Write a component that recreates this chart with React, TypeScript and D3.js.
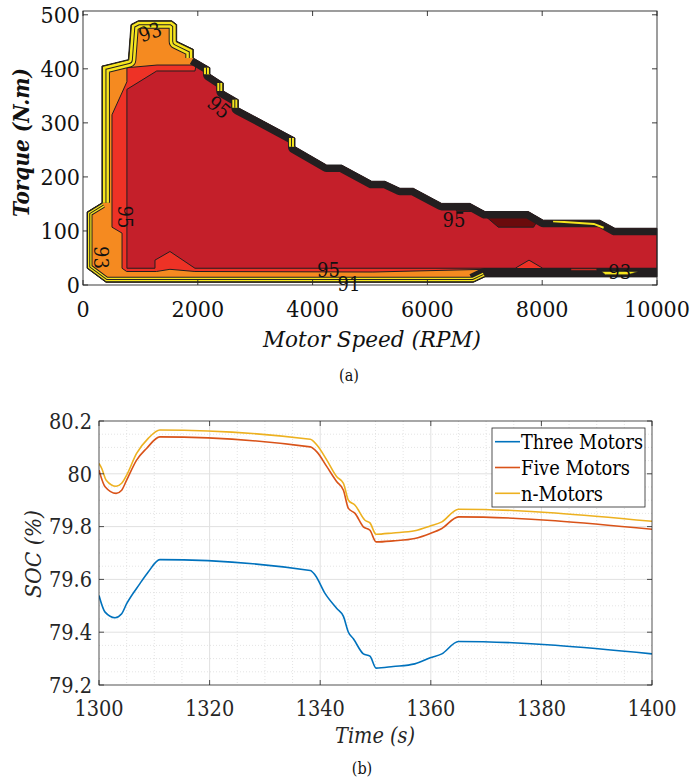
import React from 'react';
import * as d3 from 'd3';

type P = [number, number];

const SERIF = 'DejaVu Serif Condensed, DejaVu Serif';

// ---------------- (a) efficiency map ----------------
const speedTicks = [0, 2000, 4000, 6000, 8000, 10000];
const torqueTicks = [0, 100, 200, 300, 400, 500];

// outer boundary of the operating region (rpm, N.m), split by edge style
const edgeBottomLeft: P[] = [
  [7000, 15], [6800, 5], [400, 5], [70, 31], [70, 135], [330, 152],
];
const edgeUpperLeft: P[] = [
  [330, 152], [330, 405], [790, 417], [836, 482], [964, 489], [1545, 489],
  [1632, 482], [1632, 451], [1922, 436], [1922, 420],
];
const edgeTop: P[] = [
  [1922, 420], [2212, 402], [2212, 390], [2444, 374], [2444, 359], [2706, 343],
  [2706, 328], [3693, 272], [3693, 256], [4245, 222], [4506, 222], [5030, 192],
  [5260, 192], [5522, 179], [5754, 179], [6248, 151], [6742, 151], [7003, 136],
  [7757, 136], [8019, 120], [9006, 120], [9267, 105], [10000, 105],
];
const stepEdges: P[][] = [
  [[2212, 402], [2212, 390]],
  [[2444, 374], [2444, 359]],
  [[2706, 343], [2706, 328]],
  [[3693, 272], [3693, 256]],
];
const edgeBottomRight: P[] = [[10000, 15], [7000, 15], [6800, 5]];

// efficiency zones (rpm, N.m)
const redOrangeZone: P[] = [
  [765, 402], [1290, 407], [1950, 407], [2300, 600], [10500, 600], [10500, 29],
  [7000, 29], [5050, 24], [1950, 25], [1515, 29], [1280, 25], [760, 25], [680, 31],
  [680, 96], [505, 107], [505, 315], [765, 376],
];
const crimsonZone: P[] = [
  [765, 362], [1284, 396], [1951, 396], [2300, 600], [10500, 600], [10500, 31],
  [8010, 31], [7770, 46], [7530, 31], [1950, 31], [1515, 62], [1254, 46],
  [1254, 31], [765, 31],
];
const maroonZone: P[] = [
  [6450, 160], [7000, 160], [7200, 140], [7950, 140], [7950, 124], [7850, 107],
  [7235, 107], [6915, 136], [6510, 136],
];
const redOrangeSliver: P[] = [[8500, 30], [8950, 30], [8950, 27], [8500, 27]];
const yellowSliver: P[] = [[9035, 25], [9675, 25], [9500, 19], [9100, 19]];
const yellowTopStreak: P[] = [[8190, 118], [8900, 113], [9070, 106]];

const contourLabels = [
  { text: '93', speed: 1167, torque: 468, angle: -20 },
  { text: '95', speed: 2369, torque: 329, angle: 40 },
  { text: '95', speed: 732, torque: 126, angle: 90 },
  { text: '93', speed: 322, torque: 51, angle: 90 },
  { text: '95', speed: 4277, torque: 28, angle: 0 },
  { text: '91', speed: 4634, torque: 2, angle: 0 },
  { text: '93', speed: 9350, torque: 24, angle: 0 },
  { text: '95', speed: 6463, torque: 120, angle: 0 },
];

// ---------------- (b) SOC ----------------
const timeTicks = [1300, 1320, 1340, 1360, 1380, 1400];
const socTicks = [79.2, 79.4, 79.6, 79.8, 80, 80.2];
const socTickLabels = ['79.2', '79.4', '79.6', '79.8', '80', '80.2'];

const timeThree = [1300, 1301.1, 1302.9, 1304.1, 1305, 1307.4, 1308.9, 1311, 1338.2, 1339.1, 1340.9, 1343.0, 1344.2, 1345.1, 1346.0, 1347.8, 1349.0, 1350.1, 1353.2, 1357.1, 1359.9, 1362.0, 1365.0, 1400];
const socThree = [79.539, 79.476, 79.455, 79.470, 79.508, 79.584, 79.628, 79.675, 79.634, 79.616, 79.546, 79.49, 79.46, 79.400, 79.375, 79.318, 79.309, 79.264, 79.270, 79.280, 79.303, 79.318, 79.365, 79.318];

const timeFive = [1300, 1301.1, 1303.1, 1304.1, 1305, 1306.8, 1308.6, 1311, 1338.2, 1339.4, 1341.2, 1343.0, 1344.2, 1345.1, 1346.3, 1347.8, 1349.0, 1350.1, 1353.2, 1357.1, 1359.9, 1362.0, 1365.0, 1400];
const socFive = [80.014, 79.951, 79.926, 79.938, 79.976, 80.052, 80.096, 80.140, 80.102, 80.083, 80.027, 79.970, 79.938, 79.869, 79.850, 79.799, 79.786, 79.742, 79.746, 79.755, 79.774, 79.793, 79.837, 79.790];

const timeN = [1300, 1300.5, 1301.3, 1303.1, 1304.1, 1305, 1306.8, 1308.9, 1311, 1338.2, 1339.4, 1341.2, 1343.0, 1344.2, 1345.1, 1346.3, 1348.1, 1349.0, 1350.1, 1353.2, 1357.1, 1359.9, 1362.0, 1365.0, 1400];
const socN = [80.039, 80.020, 79.976, 79.953, 79.964, 79.995, 80.077, 80.134, 80.166, 80.131, 80.109, 80.052, 79.989, 79.964, 79.900, 79.881, 79.824, 79.814, 79.771, 79.776, 79.784, 79.802, 79.818, 79.866, 79.820];

const seriesNames = ['Three Motors', 'Five Motors', 'n-Motors'];
const seriesColors = ['#0072BD', '#D95319', '#EDB120'];
const legendTextWidths = [122, 109, 82];

const C = {
  yellow: '#f6e51e',
  orange: '#f58a20',
  redOrange: '#ee3226',
  crimson: '#c41f2a',
  maroon: '#6a0b0c',
  ink: '#231f20',
};

function T(props: any) {
  return <text fontFamily={SERIF} fontStretch="condensed" {...props} />;
}

export default function App() {
  // ---- (a) scales
  const xA = d3.scaleLinear().domain([0, 10000]).range([83, 657]);
  const yA = d3.scaleLinear().domain([0, 507]).range([285, 11]);
  const lineA = d3.line<P>().x((d) => xA(d[0])).y((d) => yA(d[1]));
  const poly = (pts: P[]) => (lineA(pts) || '') + 'Z';
  const envelope: P[] = [
    ...edgeBottomLeft,
    ...edgeUpperLeft.slice(1),
    ...edgeTop.slice(1),
    [10000, 15],
  ];

  const yellowBand = (pts: P[], depth: number, key: string) => {
    const d = lineA(pts) || '';
    const layers: [string, number][] = [
      [C.ink, depth * 2],
      [C.yellow, depth * 2 - 2],
      [C.ink, depth + 1],
      [C.yellow, depth - 1],
      [C.ink, 2],
    ];
    return layers.map(([col, w], i) => (
      <path key={key + i} d={d} fill="none" stroke={col} strokeWidth={w} strokeLinejoin="round" />
    ));
  };

  // ---- (b) scales
  const xB = d3.scaleLinear().domain([1300, 1400]).range([99, 652]);
  const yB = d3.scaleLinear().domain([79.2, 80.2]).range([685, 421]);
  const series = [
    { t: timeThree, v: socThree },
    { t: timeFive, v: socFive },
    { t: timeN, v: socN },
  ];
  const lineB = d3
    .line<[number, number]>()
    .x((d) => xB(d[0]))
    .y((d) => yB(d[1]))
    .curve(d3.curveMonotoneX);
  const xMinor = d3.range(1300, 1401, 5).filter((v) => v % 20 !== 0);
  const yMinor = d3.range(0, 21).filter((i) => i % 4 !== 0).map((i) => 79.2 + i * 0.05);

  const axisCol = '#262626';

  return (
    <svg width={692} height={782} style={{ position: 'absolute', left: 0, top: 0, background: '#fff' }}>
      <defs>
        <clipPath id="envClip">
          <path d={poly(envelope)} />
        </clipPath>
        <clipPath id="socClip">
          <rect x={99} y={421} width={553} height={264} />
        </clipPath>
      </defs>

      {/* ================= (a) ================= */}
      <g clipPath="url(#envClip)">
        <path d={poly(envelope)} fill={C.orange} />
        <path d={poly(redOrangeZone)} fill={C.redOrange} stroke={C.ink} strokeWidth={1} />
        <path d={poly(crimsonZone)} fill={C.crimson} stroke={C.ink} strokeWidth={1} />
        <path d={poly(maroonZone)} fill={C.maroon} stroke={C.ink} strokeWidth={1} />
        <path d={lineA(edgeTop) || ''} fill="none" stroke={C.ink} strokeWidth={14} strokeLinejoin="round" />
        <path d={lineA(edgeBottomRight) || ''} fill="none" stroke={C.ink} strokeWidth={18} strokeLinejoin="round" />
        {yellowBand(edgeBottomLeft, 5.5, 'bl')}
        {yellowBand(edgeUpperLeft, 8, 'ul')}
        {stepEdges.map((s, i) => yellowBand(s, 7, 'st' + i))}
        <path d={lineA(yellowTopStreak) || ''} fill="none" stroke={C.yellow} strokeWidth={2} />
        <path d={poly(redOrangeSliver)} fill={C.redOrange} stroke={C.ink} strokeWidth={0.6} />
        <path d={poly(yellowSliver)} fill={C.yellow} stroke={C.ink} strokeWidth={0.6} />
      </g>
      <path d={poly(envelope)} fill="none" stroke={C.ink} strokeWidth={1} />

      {contourLabels.map((l, i) => (
        <T
          key={'cl' + i}
          transform={`translate(${xA(l.speed)},${yA(l.torque)}) rotate(${l.angle})`}
          textAnchor="middle"
          dy="0.35em"
          fontSize={20}
          fill="#111"
        >
          {l.text}
        </T>
      ))}

      {/* axes (a) */}
      <rect x={83} y={11} width={574} height={274} fill="none" stroke={axisCol} strokeWidth={0.9} />
      {speedTicks.map((t) => (
        <g key={'xs' + t}>
          <line x1={xA(t)} x2={xA(t)} y1={285} y2={280} stroke={axisCol} strokeWidth={0.9} />
          <line x1={xA(t)} x2={xA(t)} y1={11} y2={16} stroke={axisCol} strokeWidth={0.9} />
          <T x={xA(t)} y={317} textAnchor="middle" fontSize={23} fill="#111">
            {t}
          </T>
        </g>
      ))}
      {torqueTicks.map((t) => (
        <g key={'yt' + t}>
          <line x1={83} x2={88} y1={yA(t)} y2={yA(t)} stroke={axisCol} strokeWidth={0.9} />
          <line x1={657} x2={652} y1={yA(t)} y2={yA(t)} stroke={axisCol} strokeWidth={0.9} />
          <T x={80} y={yA(t)} dy="0.36em" textAnchor="end" fontSize={23} fill="#111">
            {t}
          </T>
        </g>
      ))}
      <T x={263} y={347} textLength={218} lengthAdjust="spacingAndGlyphs" fontSize={23} fontStyle="italic" fill="#111">
        Motor Speed (RPM)
      </T>
      <T
        transform="translate(29,217) rotate(-90)"
        textLength={149}
        lengthAdjust="spacingAndGlyphs"
        fontSize={22}
        fontStyle="italic"
        fontWeight="bold"
        fill="#111"
      >
        Torque (N.m)
      </T>
      <T x={349} y={381} textAnchor="middle" fontSize={16} fill="#111">
        (a)
      </T>

      {/* ================= (b) ================= */}
      <rect x={99} y={421} width={553} height={264} fill="#fff" />
      {xMinor.map((t) => (
        <line key={'xm' + t} x1={xB(t)} x2={xB(t)} y1={421} y2={685} stroke="#d9d9d9" strokeWidth={0.7} strokeDasharray="1,2" />
      ))}
      {yMinor.map((v, i) => (
        <line key={'ym' + i} x1={99} x2={652} y1={yB(v)} y2={yB(v)} stroke="#d9d9d9" strokeWidth={0.7} strokeDasharray="1,2" />
      ))}
      {timeTicks.slice(1, -1).map((t) => (
        <line key={'xg' + t} x1={xB(t)} x2={xB(t)} y1={421} y2={685} stroke="#e1e1e1" strokeWidth={1} />
      ))}
      {socTicks.slice(1, -1).map((v, i) => (
        <line key={'yg' + i} x1={99} x2={652} y1={yB(v)} y2={yB(v)} stroke="#e1e1e1" strokeWidth={1} />
      ))}

      <g clipPath="url(#socClip)">
        {series.map((s, i) => (
          <path
            key={'s' + i}
            d={lineB(s.t.map((t, j) => [t, s.v[j]] as [number, number])) || ''}
            fill="none"
            stroke={seriesColors[i]}
            strokeWidth={1.6}
            strokeLinejoin="round"
          />
        ))}
      </g>

      <rect x={99} y={421} width={553} height={264} fill="none" stroke={axisCol} strokeWidth={0.8} />
      {timeTicks.map((t) => (
        <g key={'bx' + t}>
          <line x1={xB(t)} x2={xB(t)} y1={685} y2={680} stroke={axisCol} strokeWidth={0.8} />
          <line x1={xB(t)} x2={xB(t)} y1={421} y2={426} stroke={axisCol} strokeWidth={0.8} />
          <T x={xB(t)} y={716} textAnchor="middle" fontSize={21.5} fill={axisCol}>
            {t}
          </T>
        </g>
      ))}
      {socTicks.map((v, i) => (
        <g key={'by' + i}>
          <line x1={99} x2={104} y1={yB(v)} y2={yB(v)} stroke={axisCol} strokeWidth={0.8} />
          <line x1={652} x2={647} y1={yB(v)} y2={yB(v)} stroke={axisCol} strokeWidth={0.8} />
          <T x={92} y={yB(v)} dy="0.36em" textAnchor="end" fontSize={21.5} fill={axisCol}>
            {socTickLabels[i]}
          </T>
        </g>
      ))}
      <T x={335} y={743} textLength={80} lengthAdjust="spacingAndGlyphs" fontSize={22} fontStyle="italic" fill={axisCol}>
        Time (s)
      </T>
      <T
        transform="translate(41,598) rotate(-90)"
        textLength={88}
        lengthAdjust="spacingAndGlyphs"
        fontSize={22}
        fontStyle="italic"
        fill={axisCol}
      >
        SOC (%)
      </T>

      {/* legend */}
      <rect x={492} y={428} width={153} height={79} fill="#fff" stroke={axisCol} strokeWidth={0.8} />
      {seriesNames.map((n, i) => {
        const yy = 441.7 + i * 25.8;
        return (
          <g key={'lg' + i}>
            <line x1={495} x2={520} y1={yy} y2={yy} stroke={seriesColors[i]} strokeWidth={1.6} />
            <T
              x={521}
              y={yy + 7.5}
              textLength={legendTextWidths[i]}
              lengthAdjust="spacingAndGlyphs"
              fontSize={20}
              fill="#000"
            >
              {n}
            </T>
          </g>
        );
      })}

      <T x={362} y={774} textAnchor="middle" fontSize={16} fill="#111">
        (b)
      </T>
    </svg>
  );
}
